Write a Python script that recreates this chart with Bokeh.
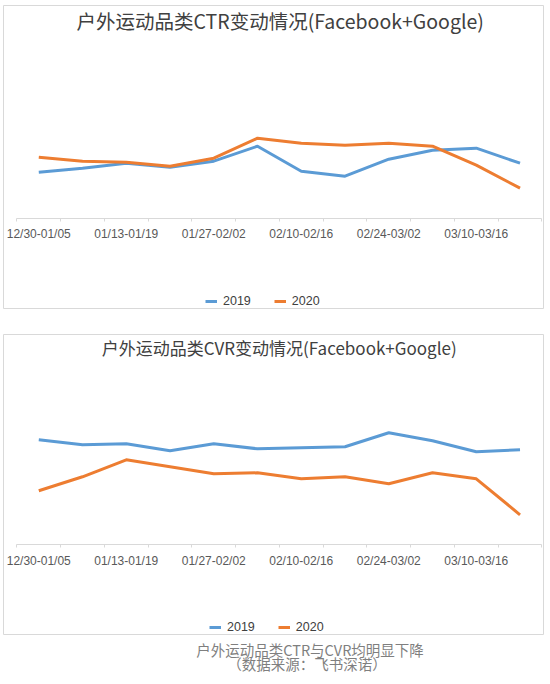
import numpy as np
from bokeh.plotting import figure
from bokeh.models import Range1d, FixedTicker, Legend, LegendItem, Label
from bokeh.layouts import column
from bokeh.embed import file_html
from bokeh.resources import INLINE
from bokeh.core.properties import value

# ---------------- data ----------------
weeks = ["12/30-01/05", "01/06-01/12", "01/13-01/19", "01/20-01/26",
         "01/27-02/02", "02/03-02/09", "02/10-02/16", "02/17-02/23",
         "02/24-03/02", "03/03-03/09", "03/10-03/16", "03/17-03/23"]
series_names = ["2019", "2020"]

ctr_2019 = [0.46, 0.50, 0.55, 0.51, 0.57, 0.72, 0.47, 0.42, 0.59, 0.68, 0.70, 0.55]
ctr_2020 = [0.61, 0.57, 0.56, 0.52, 0.60, 0.80, 0.75, 0.73, 0.75, 0.72, 0.53, 0.30]

cvr_2019 = [1.05, 1.00, 1.01, 0.94, 1.01, 0.96, 0.97, 0.98, 1.12, 1.04, 0.93, 0.95]
cvr_2020 = [0.54, 0.68, 0.85, 0.78, 0.71, 0.72, 0.66, 0.68, 0.61, 0.72, 0.66, 0.30]

titles = ["户外运动品类CTR变动情况(Facebook+Google)",
          "户外运动品类CVR变动情况(Facebook+Google)"]
caption_lines = ["户外运动品类CTR与CVR均明显下降", "（数据来源：飞书深诺）"]

# ---------------- style ----------------
BLUE = "#5B9BD5"
ORANGE = "#ED7D31"
GRID_GRAY = "#d9d9d9"
TEXT_DARK = "#404040"
LABEL_GRAY = "#595959"
CJK = "Noto Sans CJK SC"
LATIN = "Liberation Sans"

X_PX = 43.75      # px per category
PAD_LEFT = 13.4   # px from frame left to first category boundary
FRAME_W = 540
Y_PX = 100.0      # px per value unit


def make_panel(title, s19, s20, frame_h, axis_from_top, fig_h, title_pos, title_size, legend_x):
    x_start = -PAD_LEFT / X_PX
    x_end = x_start + FRAME_W / X_PX
    y_end = axis_from_top / Y_PX
    y_start = y_end - frame_h / Y_PX
    p = figure(width=FRAME_W + 2, height=fig_h,
               x_range=Range1d(x_start, x_end), y_range=Range1d(y_start, y_end),
               output_backend="svg", toolbar_location=None,
               min_border_left=1, min_border_right=1, min_border_top=1,
               min_border_bottom=fig_h - 1 - frame_h,
               y_axis_location=None)
    p.xgrid.visible = False
    p.ygrid.visible = False
    p.outline_line_color = GRID_GRAY
    p.outline_line_width = 1
    p.background_fill_color = "white"
    p.border_fill_color = "white"

    n = len(weeks)
    xs = np.arange(n) + 0.5
    r1 = p.line(xs, s19, line_color=BLUE, line_width=3, line_join="round")
    r2 = p.line(xs, s20, line_color=ORANGE, line_width=3, line_join="round")

    ax = p.xaxis[0]
    ax.fixed_location = 0
    ax.bounds = (0, n)
    shown = list(range(0, n, 2))
    ax.ticker = FixedTicker(ticks=[i + 0.5 for i in shown], minor_ticks=list(range(n + 1)))
    ax.major_label_overrides = {i + 0.5: weeks[i] for i in shown}
    ax.major_tick_line_color = None
    ax.major_tick_in = 0
    ax.major_tick_out = 3
    ax.minor_tick_in = 0
    ax.minor_tick_out = 3
    ax.minor_tick_line_color = GRID_GRAY
    ax.axis_line_color = GRID_GRAY
    ax.major_label_standoff = 6
    ax.major_label_text_font = LATIN
    ax.major_label_text_font_size = "12px"
    ax.major_label_text_color = LABEL_GRAY

    tx = x_start + title_pos[0] / X_PX
    ty = y_end - title_pos[1] / Y_PX
    p.add_layout(Label(x=tx, y=ty, text=title, text_align="center", text_baseline="middle",
                       text_font=CJK, text_font_size=f"{title_size}px", text_color=TEXT_DARK))

    leg = Legend(items=[LegendItem(label=series_names[0], renderers=[r1]),
                        LegendItem(label=series_names[1], renderers=[r2])],
                 location=(legend_x, 0), orientation="horizontal",
                 border_line_color=None, background_fill_alpha=0,
                 padding=0, margin=0, spacing=23, label_standoff=6,
                 glyph_width=12, glyph_height=14, label_height=14,
                 label_text_font=LATIN, label_text_font_size="12.5px",
                 label_text_color=TEXT_DARK)
    p.add_layout(leg)
    return p


p1 = make_panel(titles[0], ctr_2019, ctr_2020, frame_h=303, axis_from_top=212.7,
                fig_h=329, title_pos=(276.7, 15), title_size=19.5, legend_x=202)
p2 = make_panel(titles[1], cvr_2019, cvr_2020, frame_h=300, axis_from_top=210.3,
                fig_h=302, title_pos=(275.7, 12.5), title_size=17, legend_x=206)

cap = figure(width=542, height=45, x_range=Range1d(0, 542), y_range=Range1d(45, 0),
             output_backend="svg", toolbar_location=None, min_border=0,
             x_axis_location=None, y_axis_location=None)
cap.xgrid.visible = False
cap.ygrid.visible = False
cap.outline_line_color = None
cap.text(x=[307.7, 304.5], y=[14.3, 28.3], text=caption_lines,
         text_align="center", text_baseline="middle",
         text_font=value(CJK), text_font_size="14.5px", text_color="#7f7f7f")

layout = column(p1, p2, cap, spacing=0, styles={"margin-left": "2px", "margin-top": "4px"})

open("out.html", "w").write(file_html(layout, INLINE))
